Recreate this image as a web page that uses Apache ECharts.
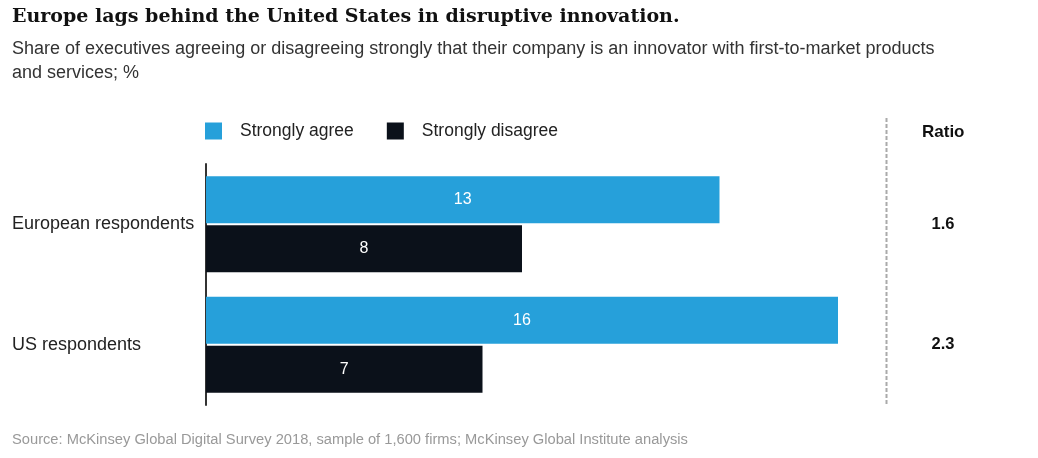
<!DOCTYPE html>
<html>
<head>
<meta charset="utf-8">
<script src="https://cdn.jsdelivr.net/npm/echarts@6/dist/echarts.min.js"></script>
<style>html,body{margin:0;padding:0;background:#fff;}#c{width:1038px;height:458px;}</style>
</head>
<body>
<div id="c"></div>
<script>
const categories = ['European respondents', 'US respondents'];
const seriesNames = ['Strongly agree', 'Strongly disagree'];
const stronglyAgree = [13, 16];
const stronglyDisagree = [8, 7];
const ratios = ['1.6', '2.3'];

const chart = echarts.init(document.getElementById('c'));
const sans = '"Liberation Sans", Arial, sans-serif';
chart.setOption({
  animation: false,
  backgroundColor: '#fff',
  title: [
    { text: 'Europe lags behind the United States in disruptive innovation.', left: 12, top: 8, padding: 0,
      textStyle: { fontFamily: '"DejaVu Serif", serif', fontWeight: 'bold', fontSize: 19, color: '#111' } },
    { text: 'Share of executives agreeing or disagreeing strongly that their company is an innovator with first-to-market products\nand services; %', left: 12, top: 37, padding: 0,
      textStyle: { fontFamily: sans, fontWeight: 'normal', fontSize: 18, color: '#333', lineHeight: 24 } },
    { text: 'Ratio', left: 922, top: 124, padding: 0,
      textStyle: { fontFamily: sans, fontWeight: 'bold', fontSize: 17, color: '#111' } },
    { text: 'Source: McKinsey Global Digital Survey 2018, sample of 1,600 firms; McKinsey Global Institute analysis', left: 12, top: 432, padding: 0,
      textStyle: { fontFamily: sans, fontWeight: 'normal', fontSize: 14.7, color: '#999' } }
  ],
  legend: {
    left: 205, top: 122, padding: 0, itemWidth: 17, itemHeight: 17, itemGap: 33, icon: 'rect',
    data: seriesNames,
    textStyle: { fontFamily: sans, fontSize: 17.5, color: '#222', padding: [2, 0, 0, 13] }
  },
  grid: { left: 206, top: 164, width: 632, height: 241, containLabel: false },
  xAxis: { type: 'value', min: 0, max: 16, show: false },
  yAxis: [
    { type: 'category', data: categories, inverse: true,
      axisLine: { show: true, lineStyle: { color: '#333', width: 2 } },
      axisTick: { show: false },
      axisLabel: { align: 'left', margin: 194, fontFamily: sans, fontSize: 18, color: '#222' } },
    { type: 'category', data: ratios, inverse: true, position: 'right',
      axisLine: { show: false }, axisTick: { show: false },
      axisLabel: { align: 'center', margin: 105, fontFamily: sans, fontSize: 16.5, fontWeight: 'bold', color: '#111' } }
  ],
  series: [
    { name: seriesNames[0], type: 'bar', data: stronglyAgree, barWidth: 47, barGap: '4%',
      itemStyle: { color: '#26A0DA' },
      label: { show: true, position: 'inside', color: '#fff', fontFamily: sans, fontSize: 16 } },
    { name: seriesNames[1], type: 'bar', data: stronglyDisagree, barWidth: 47, barGap: '4%',
      itemStyle: { color: '#0B111A' },
      label: { show: true, position: 'inside', color: '#fff', fontFamily: sans, fontSize: 16 } }
  ],
  graphic: [
    { type: 'line', shape: { x1: 886.5, y1: 118, x2: 886.5, y2: 405 },
      style: { stroke: '#aaa', lineWidth: 2, lineDash: [4, 2] } }
  ]
});
</script>
</body>
</html>
